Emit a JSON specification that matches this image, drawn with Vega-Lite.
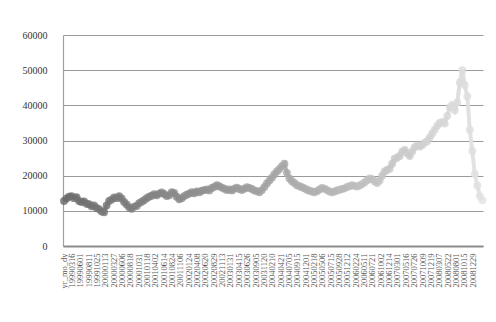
{
  "$schema": "https://vega.github.io/schema/vega-lite/v6.json",
  "autosize": {"type": "none"},
  "padding": {"left": 63, "top": 35, "right": 13, "bottom": 76},
  "width": 420,
  "height": 211,
  "background": "#ffffff",
  "config": {
    "view": {"stroke": null},
    "font": "Liberation Serif"
  },
  "data": {
    "values": [
      {"i": 6, "v": 12800}, {"i": 21, "v": 13500}, {"i": 36, "v": 14000}, {"i": 51, "v": 14200},
      {"i": 66, "v": 13600}, {"i": 81, "v": 13900}, {"i": 96, "v": 12800}, {"i": 111, "v": 12500},
      {"i": 126, "v": 12700}, {"i": 141, "v": 12000}, {"i": 156, "v": 11900}, {"i": 171, "v": 11300},
      {"i": 186, "v": 11500}, {"i": 201, "v": 10800}, {"i": 216, "v": 10500}, {"i": 231, "v": 9800},
      {"i": 246, "v": 9600}, {"i": 261, "v": 11500}, {"i": 276, "v": 12800}, {"i": 291, "v": 13200},
      {"i": 306, "v": 13800}, {"i": 321, "v": 13600}, {"i": 336, "v": 14200}, {"i": 351, "v": 13500},
      {"i": 366, "v": 12500}, {"i": 381, "v": 11800}, {"i": 396, "v": 11000}, {"i": 411, "v": 10600},
      {"i": 426, "v": 11200}, {"i": 441, "v": 11400}, {"i": 456, "v": 12200}, {"i": 471, "v": 12600},
      {"i": 486, "v": 13000}, {"i": 501, "v": 13600}, {"i": 516, "v": 14000}, {"i": 531, "v": 14300},
      {"i": 546, "v": 14700}, {"i": 561, "v": 14400}, {"i": 576, "v": 14900}, {"i": 591, "v": 15200},
      {"i": 606, "v": 14800}, {"i": 621, "v": 14200}, {"i": 636, "v": 14400}, {"i": 651, "v": 15300},
      {"i": 666, "v": 15100}, {"i": 681, "v": 14000}, {"i": 696, "v": 13300}, {"i": 711, "v": 13600},
      {"i": 726, "v": 14200}, {"i": 741, "v": 14600}, {"i": 756, "v": 14900}, {"i": 771, "v": 15300},
      {"i": 786, "v": 15000}, {"i": 801, "v": 15500}, {"i": 816, "v": 15300}, {"i": 831, "v": 15700},
      {"i": 846, "v": 15900}, {"i": 861, "v": 16100}, {"i": 876, "v": 15800}, {"i": 891, "v": 16500},
      {"i": 906, "v": 16800}, {"i": 921, "v": 17300}, {"i": 936, "v": 17000}, {"i": 951, "v": 16600},
      {"i": 966, "v": 16300}, {"i": 981, "v": 15900}, {"i": 996, "v": 16100}, {"i": 1011, "v": 15800},
      {"i": 1026, "v": 16300}, {"i": 1041, "v": 16600}, {"i": 1056, "v": 16200}, {"i": 1071, "v": 15900},
      {"i": 1086, "v": 16300}, {"i": 1101, "v": 16700}, {"i": 1116, "v": 16500}, {"i": 1131, "v": 16200},
      {"i": 1146, "v": 15800}, {"i": 1161, "v": 15600}, {"i": 1176, "v": 15300}, {"i": 1191, "v": 15900},
      {"i": 1206, "v": 16800}, {"i": 1221, "v": 17800}, {"i": 1236, "v": 18600}, {"i": 1251, "v": 19400},
      {"i": 1266, "v": 20400}, {"i": 1281, "v": 21200}, {"i": 1296, "v": 21900}, {"i": 1311, "v": 22700},
      {"i": 1326, "v": 23400}, {"i": 1341, "v": 20800}, {"i": 1356, "v": 19200}, {"i": 1371, "v": 18400},
      {"i": 1386, "v": 17900}, {"i": 1401, "v": 17300}, {"i": 1416, "v": 17000}, {"i": 1431, "v": 16700},
      {"i": 1446, "v": 16400}, {"i": 1461, "v": 16000}, {"i": 1476, "v": 15700}, {"i": 1491, "v": 15500},
      {"i": 1506, "v": 15300}, {"i": 1521, "v": 15600}, {"i": 1536, "v": 16100}, {"i": 1551, "v": 16500},
      {"i": 1566, "v": 16300}, {"i": 1581, "v": 15900}, {"i": 1596, "v": 15500}, {"i": 1611, "v": 15300},
      {"i": 1626, "v": 15500}, {"i": 1641, "v": 15800}, {"i": 1656, "v": 16000}, {"i": 1671, "v": 16200},
      {"i": 1686, "v": 16400}, {"i": 1701, "v": 16800}, {"i": 1716, "v": 17000}, {"i": 1731, "v": 17300},
      {"i": 1746, "v": 17100}, {"i": 1761, "v": 16900}, {"i": 1776, "v": 17200}, {"i": 1791, "v": 17600},
      {"i": 1806, "v": 18100}, {"i": 1821, "v": 18700}, {"i": 1836, "v": 19200}, {"i": 1851, "v": 19000},
      {"i": 1866, "v": 18400}, {"i": 1881, "v": 17900}, {"i": 1896, "v": 18600}, {"i": 1911, "v": 20000},
      {"i": 1926, "v": 21200}, {"i": 1941, "v": 21600}, {"i": 1956, "v": 22000}, {"i": 1971, "v": 23400},
      {"i": 1986, "v": 24800}, {"i": 2001, "v": 25100}, {"i": 2016, "v": 25600}, {"i": 2031, "v": 26800},
      {"i": 2046, "v": 27300}, {"i": 2061, "v": 26400}, {"i": 2076, "v": 25600}, {"i": 2091, "v": 26900},
      {"i": 2106, "v": 28100}, {"i": 2121, "v": 28600}, {"i": 2136, "v": 28300}, {"i": 2151, "v": 28700},
      {"i": 2166, "v": 29400}, {"i": 2181, "v": 29800}, {"i": 2196, "v": 30900}, {"i": 2211, "v": 32000},
      {"i": 2226, "v": 33100}, {"i": 2241, "v": 34200}, {"i": 2256, "v": 35000}, {"i": 2271, "v": 35300},
      {"i": 2286, "v": 34800}, {"i": 2301, "v": 37000}, {"i": 2316, "v": 39500}, {"i": 2331, "v": 40100},
      {"i": 2346, "v": 38600}, {"i": 2361, "v": 40800}, {"i": 2376, "v": 46500}, {"i": 2391, "v": 50000},
      {"i": 2406, "v": 45800}, {"i": 2421, "v": 42600}, {"i": 2436, "v": 33000}, {"i": 2451, "v": 27000},
      {"i": 2466, "v": 20500}, {"i": 2481, "v": 17200}, {"i": 2496, "v": 14200}, {"i": 2511, "v": 13000}
    ]
  },
  "encoding": {
    "x": {
      "field": "i",
      "type": "quantitative",
      "scale": {"domain": [0, 2515], "nice": false, "zero": false},
      "axis": {
        "title": null,
        "grid": false,
        "values": [0, 50, 100, 150, 200, 250, 300, 350, 400, 450, 500, 550, 600, 650, 700, 750, 800, 850, 900, 950, 1000, 1050, 1100, 1150, 1200, 1250, 1300, 1350, 1400, 1450, 1500, 1550, 1600, 1650, 1700, 1750, 1800, 1850, 1900, 1950, 2000, 2050, 2100, 2150, 2200, 2250, 2300, 2350, 2400, 2450],
        "labelExpr": "['yr_mo_dy','19990316','19990601','19990811','19991025','20000113','20000327','20000606','20000818','20001031','20010118','20010402','20010614','20010824','20011106','20020124','20020408','20020620','20020829','20021113','20030131','20030415','20030626','20030905','20031120','20040210','20040421','20040705','20040915','20041201','20050218','20050506','20050715','20050928','20051212','20060224','20060511','20060721','20061002','20061214','20070301','20070516','20070726','20071009','20071219','20080307','20080522','20080801','20081015','20081229'][round(datum.value / 50)]",
        "labelAngle": -90,
        "labelAlign": "right",
        "labelBaseline": "middle",
        "labelFont": "Liberation Serif",
        "labelFontSize": 8.5,
        "labelColor": "#555555",
        "labelPadding": 7,
        "labelOverlap": false,
        "labelFlush": false,
        "labelBound": false,
        "ticks": false,
        "domain": true,
        "domainColor": "#8c8c8c",
        "domainWidth": 2
      }
    },
    "y": {
      "field": "v",
      "type": "quantitative",
      "scale": {"domain": [0, 60000], "nice": false},
      "axis": {
        "title": null,
        "values": [0, 10000, 20000, 30000, 40000, 50000, 60000],
        "format": "d",
        "grid": true,
        "gridColor": "#9a9a9a",
        "gridWidth": 1.2,
        "ticks": false,
        "domain": true,
        "domainColor": "#a0a0a0",
        "domainWidth": 1.2,
        "labelFont": "Liberation Serif",
        "labelFontSize": 10,
        "labelColor": "#333333",
        "labelPadding": 16
      }
    }
  },
  "layer": [
    {
      "mark": {
        "type": "line",
        "strokeWidth": 4,
        "color": {
          "gradient": "linear",
          "x1": 0, "x2": 1, "y1": 0, "y2": 0,
          "stops": [
            {"offset": 0, "color": "#7a7a7a"},
            {"offset": 1, "color": "#e4e4e4"}
          ]
        }
      }
    },
    {
      "mark": {"type": "circle", "size": 62, "opacity": 0.8},
      "encoding": {
        "color": {
          "field": "i",
          "type": "quantitative",
          "scale": {"range": ["#6c6c6c", "#e2e2e2"]},
          "legend": null
        }
      }
    }
  ]
}
